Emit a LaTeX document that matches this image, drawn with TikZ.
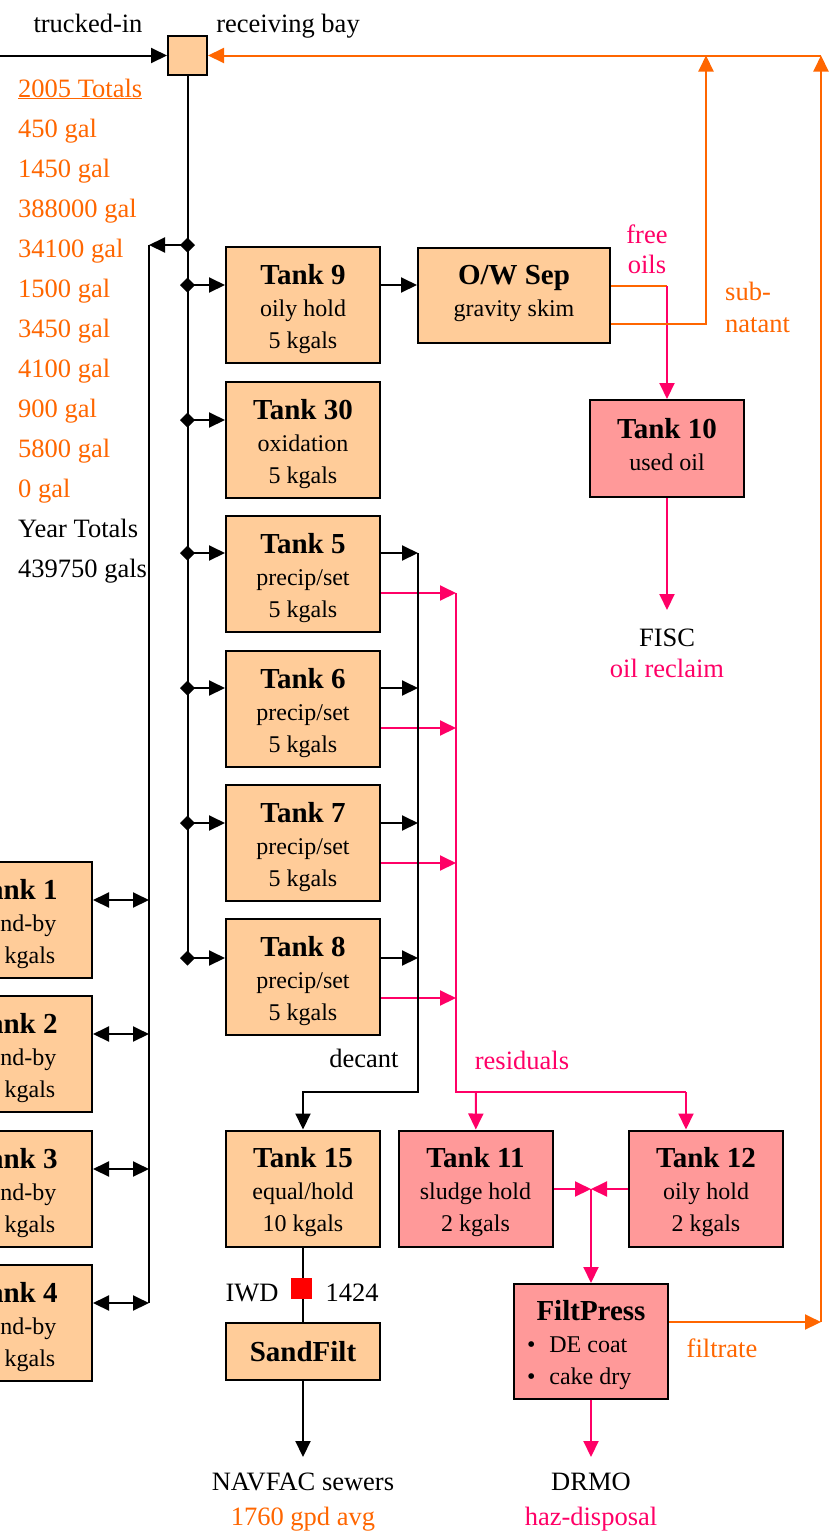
\documentclass[tikz,border=0pt]{standalone}
\usepackage{fontspec}
\setmainfont{Liberation Serif}
\usetikzlibrary{arrows.meta}

\definecolor{holdfill}{HTML}{FFCC99}
\definecolor{wastefill}{HTML}{FF9999}
\definecolor{returnline}{HTML}{FF6600}
\definecolor{oilline}{HTML}{FF0066}

% bold tank name, with a strut that lowers three-line texts a little
\newcommand{\tanktitle}[1]{{\fontsize{29}{34}\selectfont\bfseries\rule{0pt}{28pt}#1}}
\newcommand{\tankname}[1]{{\fontsize{29}{34}\selectfont\bfseries #1}}
\newcommand{\lowend}{\rule[-9pt]{0pt}{9pt}}

\begin{document}
\begin{tikzpicture}[x=1pt, y=-1pt,
    tank/.style={draw, line width=2pt, fill=holdfill, minimum width=154pt, minimum height=116pt,
      align=center, inner sep=1pt, font=\fontsize{24}{32}\selectfont},
    waste/.style={tank, fill=wastefill},
    txt/.style={font=\fontsize{26.5}{31}\selectfont, inner sep=0pt, anchor=base},
    pipe/.style={line width=2pt},
    flow/.style={pipe, -{Triangle[length=16pt, width=15pt]}},
    tap/.style={pipe, {Diamond[length=15pt, width=15pt]}-{Triangle[length=16pt, width=15pt]}, shorten <=-7.5pt},
    both/.style={pipe, {Triangle[length=16pt, width=15pt]}-{Triangle[length=16pt, width=15pt]}},
    oline/.style={pipe, returnline},
    oflow/.style={flow, returnline},
    pline/.style={pipe, oilline},
    pflow/.style={flow, oilline}]
    \useasboundingbox (0,0) rectangle (833,1532);

    % receiving bay and totals
    \node[tank, minimum width=39pt, minimum height=39pt] (bay) at (187.5,55.5) {};
    \node[txt] (truck) at (88,32) {trucked-in};
    \node[txt] (baylbl) at (288,32) {receiving bay};
    \node[txt, anchor=base west, returnline] (tot0) at (18,97) {\underline{2005 Totals}};
    \foreach \val [count=\i] in {450,1450,388000,34100,1500,3450,4100,900,5800,0}
        \node[txt, anchor=base west, returnline] (tot\i) at (18,{97+40*\i}) {\val\ gal};
    \node[txt, anchor=base west] (year) at (18,537) {Year Totals};
    \node[txt, anchor=base west] (yearsum) at (18,577) {439750 gals};

    % tanks
    \node[tank] (t9) at (303,305) {\tanktitle{Tank 9}\\oily hold\\5 kgals};
    \node[tank] (t30) at (303,440) {\tanktitle{Tank 30}\\oxidation\\5 kgals};
    \node[tank] (t5) at (303,574) {\tanktitle{Tank 5}\\precip/set\\5 kgals};
    \node[tank] (t6) at (303,709) {\tanktitle{Tank 6}\\precip/set\\5 kgals};
    \node[tank] (t7) at (303,843) {\tanktitle{Tank 7}\\precip/set\\5 kgals};
    \node[tank] (t8) at (303,977) {\tanktitle{Tank 8}\\precip/set\\5 kgals};
    \node[tank] (t15) at (303,1188.5) {\tanktitle{Tank 15}\\equal/hold\\10 kgals};
    \node[tank, minimum height=57pt] (sand) at (303,1351.5) {\tankname{SandFilt}};
    \node[tank, minimum width=192pt, minimum height=95pt] (ows) at (514,295.5) {\tankname{O/W Sep}\\gravity skim\lowend};
    \node[waste, minimum height=97pt] (t10) at (667,448.5) {\tankname{Tank 10}\\used oil\lowend};
    \node[waste] (t11) at (475.5,1188.5) {\tanktitle{Tank 11}\\sludge hold\\2 kgals};
    \node[waste] (t12) at (706,1188.5) {\tanktitle{Tank 12}\\oily hold\\2 kgals};
    \node[waste, minimum height=115pt] (fp) at (591,1341.5) {\tanktitle{FiltPress}\\
        \makebox[128pt][l]{\textbullet\hspace{14pt}DE coat}\\\makebox[128pt][l]{\textbullet\hspace{14pt}cake dry}};

    % inflow
    \coordinate (truckin) at (0,55.5);
    \draw[flow] (truckin) -- (bay);

    % header and taps
    \coordinate (split) at (187.5,245);
    \coordinate (sbus) at (149,245);
    \coordinate (s4) at (149,1303);
    \draw[pipe] (bay) -- (187.5,958);
    \draw[pipe] (sbus) -- (s4);
    \draw[tap] (split) -- (sbus);
    \foreach \n/\y in {9/285, 30/420, 5/553, 6/688, 7/823, 8/958} {
        \coordinate (j\n) at (187.5,\y);
        \draw[tap] (j\n) -- (t\n.west |- j\n);
    }

    % stand-by tanks
    \foreach \n/\y in {1/920, 2/1054, 3/1189, 4/1323} {
        \node[tank] (t\n) at (15,\y) {\tanktitle{Tank \n}\\stand-by\\10 kgals};
        \coordinate (s\n) at (149,{\y-20});
        \draw[both] (t\n.east |- s\n) -- (s\n);
    }

    % oil/water separation
    \draw[flow] (t9.east |- j9) -- (ows.west |- j9);
    \coordinate (skim) at (667,286);
    \coordinate (sub) at (706,324);
    \coordinate (subtop) at (706,55.5);
    \draw[oline] (ows.east |- skim) -- (skim);
    \draw[pflow] (skim) -- (t10);
    \draw[oflow] (ows.east |- sub) -- (sub) -- (subtop);
    \node[txt, oilline] (free) at (647,243) {free};
    \node[txt, oilline] (oils) at (647,273) {oils};
    \node[txt, anchor=base west, returnline] (subn) at (725,300) {sub-};
    \node[txt, anchor=base west, returnline] (natant) at (725,332) {natant};
    \coordinate (fiscin) at (667,610);
    \draw[pflow] (t10) -- (fiscin);
    \node[txt] (fisc) at (667,646) {FISC};
    \node[txt, oilline] (reclaim) at (667,677) {oil reclaim};

    % decant and residuals
    \foreach \n/\y in {5/553, 6/688, 7/823, 8/958} {
        \coordinate (dc\n) at (418,\y);
        \coordinate (rs\n) at (456,{\y+40});
        \draw[flow] (t\n.east |- dc\n) -- (dc\n);
        \draw[pflow] (t\n.east |- rs\n) -- (rs\n);
    }
    \coordinate (decbend) at (418,1092);
    \draw[flow] (dc5) -- (decbend) -| (t15);
    \node[txt] (decant) at (364,1067) {decant};
    \coordinate (resbend) at (456,1092);
    \coordinate (r11) at (476,1092);
    \coordinate (r12) at (686,1092);
    \draw[pline] (rs5) -- (resbend) -- (r12);
    \draw[pflow] (r12) -- (t12.north -| r12);
    \draw[pflow] (r11) -- (t11);
    \node[txt, oilline] (resid) at (522,1069) {residuals};

    % sludge to filter press
    \coordinate (fpj) at (591,1189);
    \draw[pflow] (t11.east |- fpj) -- (fpj);
    \draw[pflow] (t12.west |- fpj) -- (fpj);
    \draw[pflow] (fpj) -- (fp);
    \coordinate (drmoin) at (591,1457);
    \draw[pflow] (fp) -- (drmoin);
    \node[txt] (drmo) at (591,1490) {DRMO};
    \node[txt, oilline] (haz) at (591,1525) {haz-disposal};

    % filtrate return
    \coordinate (filt) at (821,1322);
    \coordinate (ret) at (821,55.5);
    \draw[oflow] (fp.east |- filt) -- (filt);
    \draw[oflow] (filt) -- (ret);
    \draw[oflow] (ret) -- (bay);
    \node[txt, returnline] (filtlbl) at (722,1357) {filtrate};

    % discharge
    \draw[pipe] (t15) -- (sand);
    \node[fill=red, minimum size=21pt, inner sep=0pt] (iwd) at (301,1288) {};
    \node[txt] (iwdlbl) at (252,1301) {IWD};
    \node[txt] (permit) at (352,1301) {1424};
    \coordinate (sewerin) at (303,1457);
    \draw[flow] (sand) -- (sewerin);
    \node[txt] (navfac) at (303,1490) {NAVFAC sewers};
    \node[txt, returnline] (gpd) at (303,1525) {1760 gpd avg};
\end{tikzpicture}
\end{document}
